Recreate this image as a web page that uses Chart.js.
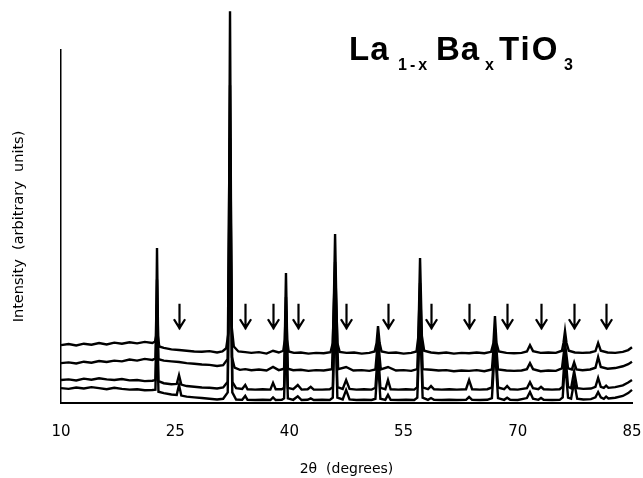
<!DOCTYPE html>
<html>
<head>
<meta charset="utf-8">
<script src="https://cdn.jsdelivr.net/npm/chart.js@4.4.1/dist/chart.umd.min.js"></script>
<style>
  html, body { margin: 0; padding: 0; background: #fff; }
  #wrap { width: 643px; height: 478px; }
</style>
</head>
<body>
<div id="wrap"><canvas id="xrd-chart"></canvas></div>
<script>
// x tick labels (2θ, degrees)
const xTicks = [10, 25, 40, 55, 70, 85];

// arrow markers (extra reflections), in degrees
const arrowPos = [25.5, 34.2, 37.85, 41.1, 47.45, 52.95, 58.6, 63.6, 68.6, 73.05, 77.4, 81.6];

// four stacked patterns, [2θ, intensity] (top to bottom)
const trace1 = [
  [10, 16.4], [11, 16.7], [12, 16.3], [13, 16.8], [14, 16.5], [15, 17.0], [16, 16.6], [17, 17.1],
  [18, 16.8], [19, 17.2], [20, 16.9], [21, 17.3], [22, 17.0], [22.35, 17.4], [22.5, 19], [22.61, 43.9],
  [22.75, 19], [22.9, 16.0], [23.5, 15.6], [24.5, 15.2], [25.5, 15.0], [26.5, 14.8], [27.5, 14.6],
  [28.5, 14.5], [29.5, 14.7], [30.5, 14.3], [31.2, 14.6], [31.7, 15.5], [32.0, 20], [32.2, 111],
  [32.4, 22], [32.7, 16], [33.3, 14.6], [34.2, 14.4], [35, 14.2], [36, 14.4], [37, 14.0], [37.85, 14.8],
  [38.6, 14.3], [39.2, 14.8], [39.4, 18], [39.55, 36.8], [39.7, 18], [39.9, 14.6], [40.6, 14.2],
  [41.5, 14.3], [42.5, 14.0], [43.5, 14.2], [44.5, 14.1], [45.4, 14.4], [45.7, 17], [45.85, 30],
  [46.0, 47.9], [46.15, 30], [46.3, 17], [46.6, 14.5], [47.5, 14.2], [48.5, 14.3], [49.5, 14.0],
  [50.5, 14.2], [51.2, 14.6], [51.45, 17], [51.64, 21.8], [51.85, 17], [52.1, 14.6], [53, 14.2],
  [54, 14.3], [55, 14.0], [56, 14.2], [56.7, 14.6], [56.95, 19], [57.16, 41.1], [57.4, 19], [57.7, 14.8],
  [58.6, 14.3], [59.6, 14.1], [60.6, 14.3], [61.6, 14.0], [62.6, 14.2], [63.6, 14.1], [64.6, 14.3],
  [65.6, 14.1], [66.5, 14.5], [66.8, 17], [67.0, 24.6], [67.2, 17], [67.5, 14.6], [68.5, 14.2],
  [69.5, 14.1], [70.5, 14.2], [71.2, 14.6], [71.6, 16.4], [72.0, 14.7], [73, 14.2], [74, 14.3],
  [75, 14.2], [75.8, 14.8], [76.0, 17], [76.2, 20.4], [76.4, 17], [76.7, 14.8], [77.5, 14.3],
  [78.5, 14.2], [79.5, 14.3], [80.2, 14.7], [80.55, 17.0], [80.9, 14.8], [81.8, 14.3], [82.8, 14.2],
  [83.8, 14.5], [84.5, 15.0], [85, 15.8],
];
const trace2 = [
  [10, 11.3], [11, 11.5], [12, 11.2], [13, 11.7], [14, 11.4], [15, 11.9], [16, 11.6], [17, 12.0],
  [18, 11.8], [19, 12.3], [20, 12.0], [21, 12.5], [22, 12.2], [22.4, 12.6], [22.61, 35], [22.8, 12.4],
  [23.5, 12.0], [24.5, 11.8], [25.5, 11.6], [26.5, 11.3], [27.5, 11.1], [28.5, 10.9], [29.5, 10.8],
  [30.5, 10.5], [31.3, 10.7], [31.9, 12.5], [32.2, 90], [32.45, 13], [32.8, 10], [33.5, 9.4],
  [34.2, 9.6], [35, 9.3], [36, 9.5], [37, 9.2], [37.85, 10.2], [38.6, 9.3], [39.3, 9.7], [39.55, 30],
  [39.8, 9.7], [40.5, 9.3], [41.5, 9.4], [42.5, 9.1], [43.5, 9.3], [44.5, 9.2], [45.6, 9.6], [46.0, 40],
  [46.4, 9.6], [47.45, 10.2], [48.4, 9.2], [49.5, 9.3], [50.5, 9.1], [51.3, 9.5], [51.64, 18],
  [52.0, 9.5], [52.95, 10.2], [54, 9.2], [55, 9.3], [56, 9.1], [56.8, 9.6], [57.16, 34], [57.5, 9.6],
  [58.6, 9.4], [59.6, 9.2], [60.6, 9.3], [61.6, 9.0], [62.6, 9.2], [63.6, 9.1], [64.6, 9.3],
  [65.6, 9.0], [66.6, 9.5], [67.0, 21], [67.4, 9.5], [68.5, 9.2], [69.5, 9.1], [70.5, 9.2], [71.2, 9.6],
  [71.6, 11.3], [72.0, 9.6], [73, 9.0], [74, 9.2], [75, 9.1], [75.8, 9.8], [76.2, 17], [76.6, 9.8],
  [77.1, 9.5], [77.4, 11.5], [77.7, 9.5], [78.5, 9.3], [79.5, 9.5], [80.2, 10], [80.55, 13.0],
  [80.9, 10.2], [81.8, 9.7], [82.8, 9.9], [83.8, 10.4], [84.5, 11.0], [85, 11.7],
];
const trace3 = [
  [10, 6.5], [11, 6.7], [12, 6.4], [13, 6.9], [14, 6.6], [15, 7.0], [16, 6.7], [17, 6.5], [18, 6.8],
  [19, 6.4], [20, 6.5], [21, 6.2], [22, 6.3], [22.4, 6.5], [22.61, 28], [22.8, 6.2], [23.5, 5.6],
  [24.5, 5.3], [25.2, 5.4], [25.5, 7.9], [25.8, 5.2], [26.5, 4.8], [27.5, 4.6], [28.5, 4.4],
  [29.5, 4.3], [30.5, 4.1], [31.3, 4.4], [31.9, 6], [32.2, 75], [32.5, 6], [33, 4.2], [33.8, 4.0],
  [34.2, 5.1], [34.5, 3.9], [35.5, 3.8], [36.5, 3.9], [37.5, 3.8], [37.85, 5.7], [38.2, 3.9],
  [39.0, 3.9], [39.3, 4.3], [39.55, 26], [39.8, 4.3], [40.5, 3.9], [41.1, 5.1], [41.6, 3.8],
  [42.4, 3.9], [42.8, 4.6], [43.2, 3.8], [44.3, 3.8], [45.3, 3.9], [45.7, 4.5], [46.0, 35], [46.3, 4.5],
  [47.0, 4.0], [47.45, 6.5], [47.9, 4.0], [48.8, 3.8], [49.8, 3.9], [50.8, 3.8], [51.3, 4.3],
  [51.64, 15], [51.95, 4.3], [52.6, 3.9], [52.95, 6.5], [53.3, 3.9], [54.3, 3.8], [55.3, 3.9],
  [56.4, 3.8], [56.8, 4.5], [57.16, 30], [57.5, 4.4], [58.2, 3.9], [58.6, 4.8], [59.0, 3.9], [60, 3.8],
  [61, 3.9], [62, 3.8], [63.2, 3.9], [63.6, 6.5], [64.0, 3.9], [65, 3.8], [66, 3.9], [66.6, 4.4],
  [67.0, 19], [67.4, 4.4], [68.2, 3.9], [68.6, 4.8], [69, 3.9], [70, 3.8], [71.2, 4.2], [71.6, 5.9],
  [72.0, 4.2], [72.7, 3.9], [73.05, 4.6], [73.4, 3.9], [74.5, 3.8], [75.5, 3.9], [75.9, 4.6],
  [76.2, 15], [76.6, 4.6], [77.0, 4.2], [77.4, 9], [77.8, 4.2], [78.6, 4.0], [79.6, 4.1], [80.2, 4.6],
  [80.55, 7.1], [80.9, 4.6], [81.3, 4.3], [81.6, 4.9], [81.9, 4.3], [82.8, 4.5], [83.8, 5.0],
  [84.5, 5.8], [85, 6.5],
];
const trace4 = [
  [10, 4.2], [11, 4.0], [12, 4.4], [13, 4.1], [14, 4.5], [15, 4.2], [16, 3.9], [17, 4.3], [18, 4.0],
  [19, 3.8], [20, 3.9], [21, 3.6], [22, 3.7], [22.4, 3.8], [22.61, 22], [22.8, 3.2], [23.5, 2.8],
  [24.5, 2.4], [25.2, 2.3], [25.5, 5.1], [25.8, 2.1], [26.5, 1.8], [27.5, 1.6], [28.5, 1.4],
  [29.5, 1.2], [30.5, 1.0], [31.3, 1.2], [31.9, 3], [32.2, 60], [32.5, 3], [33, 1.0], [33.8, 0.9],
  [34.2, 2.0], [34.5, 0.9], [35.5, 0.85], [36.5, 0.9], [37.5, 0.85], [37.85, 1.6], [38.2, 0.85],
  [39.0, 0.9], [39.3, 1.3], [39.55, 20], [39.8, 1.3], [40.5, 0.9], [41.1, 1.9], [41.6, 0.85],
  [42.4, 0.9], [42.8, 1.3], [43.2, 0.85], [44.3, 0.9], [45.3, 0.85], [45.7, 1.5], [46.0, 28],
  [46.3, 1.5], [47.0, 1.0], [47.45, 3.7], [47.9, 1.0], [48.8, 0.85], [49.8, 0.9], [50.8, 0.85],
  [51.3, 1.2], [51.64, 12], [51.95, 1.2], [52.6, 0.9], [52.95, 2.3], [53.3, 0.9], [54.3, 0.85],
  [55.3, 0.9], [56.4, 0.85], [56.8, 1.5], [57.16, 24], [57.5, 1.5], [58.2, 0.9], [58.6, 1.4],
  [59.0, 0.9], [60, 0.85], [61, 0.9], [62, 0.85], [63.2, 0.9], [63.6, 1.7], [64.0, 0.9], [65, 0.85],
  [66, 0.9], [66.6, 1.4], [67.0, 16], [67.4, 1.4], [68.2, 0.9], [68.6, 1.5], [69, 0.9], [70, 0.85],
  [71.2, 1.4], [71.6, 3.1], [72.0, 1.2], [72.7, 0.9], [73.05, 1.4], [73.4, 0.9], [74.5, 0.85],
  [75.5, 0.9], [75.9, 1.6], [76.2, 12], [76.6, 1.5], [77.0, 1.2], [77.4, 6], [77.8, 1.2], [78.6, 1.0],
  [79.6, 1.1], [80.2, 1.6], [80.55, 3.1], [80.9, 1.6], [81.3, 1.2], [81.6, 1.8], [81.9, 1.3],
  [82.8, 1.5], [83.8, 2.0], [84.5, 2.8], [85, 3.7],
];

const traces = [trace1, trace2, trace3, trace4];

// arrows drawn through the x scale
const arrowPlugin = {
  id: "arrows",
  afterDatasetsDraw(chart) {
    const { ctx, scales } = chart;
    ctx.save();
    ctx.strokeStyle = "#000";
    ctx.lineWidth = 2.2;
    ctx.lineCap = "square";
    arrowPos.forEach((pos) => {
      const x = Math.round(scales.x.getPixelForValue(pos)) + 0.5;
      const top = scales.y.getPixelForValue(27.8);
      const tip = scales.y.getPixelForValue(21.2);
      ctx.beginPath();
      ctx.moveTo(x, top);
      ctx.lineTo(x, tip);
      ctx.moveTo(x - 5, tip - 8);
      ctx.lineTo(x, tip);
      ctx.lineTo(x + 5, tip - 8);
      ctx.stroke();
    });
    ctx.restore();
  },
};

// formula label with subscripts
const formulaPlugin = {
  id: "formula",
  afterDraw(chart) {
    const ctx = chart.ctx;
    ctx.save();
    ctx.fillStyle = "#000";
    ctx.textBaseline = "alphabetic";
    const big = "bold 33px 'Liberation Sans', Arial, sans-serif";
    const small = "bold 16px 'Liberation Sans', Arial, sans-serif";
    const parts = [
      ["La", big, 349, 60, "1px"],
      ["1-x", small, 398, 70, "3px"],
      ["Ba", big, 436, 60, "1px"],
      ["x", small, 485, 70, "0px"],
      ["TiO", big, 499, 60, "2px"],
      ["3", small, 564, 70, "0px"],
    ];
    parts.forEach(([text, font, x, y, spacing]) => {
      ctx.font = font;
      ctx.letterSpacing = spacing;
      ctx.fillText(text, x, y);
    });
    ctx.restore();
  },
};

const ctx = document.getElementById("xrd-chart");
new Chart(ctx, {
  type: "line",
  data: {
    datasets: traces.map((trace) => ({
      data: trace.map(([x, y]) => ({ x: x, y: y })),
      borderColor: "#000",
      borderWidth: 2.4,
      pointRadius: 0,
      tension: 0,
      fill: false,
      clip: false,
    })),
  },
  options: {
    responsive: true,
    maintainAspectRatio: false,
    animation: false,
    layout: {
      padding: { top: 50, right: 11, bottom: 0, left: 0 },
    },
    plugins: {
      legend: { display: false },
      tooltip: { enabled: false },
    },
    scales: {
      x: {
        type: "linear",
        min: xTicks[0],
        max: xTicks[xTicks.length - 1],
        afterBuildTicks: (scale) => {
          scale.ticks = xTicks.map((v) => ({ value: v }));
        },
        afterFit: (scale) => {
          scale.height = 75;
          scale.paddingLeft = 0;
          scale.paddingRight = 0;
        },
        grid: { display: false, drawTicks: false },
        border: { display: true, color: "#000", width: 2 },
        ticks: {
          color: "#000",
          padding: 20,
          maxRotation: 0,
          font: { family: "'DejaVu Sans', sans-serif", size: 15 },
        },
        title: {
          display: true,
          text: "2θ  (degrees)",
          color: "#000",
          padding: { top: 0, bottom: 0 },
          font: { family: "'DejaVu Sans', sans-serif", size: 14 },
        },
      },
      y: {
        min: 0,
        max: 100,
        afterFit: (scale) => {
          scale.width = 61;
        },
        grid: { display: false, drawTicks: false },
        border: { display: true, color: "#000", width: 1.5 },
        ticks: { display: false },
        title: {
          display: true,
          text: "Intensity  (arbitrary  units)",
          color: "#000",
          padding: { top: 11, bottom: 0 },
          font: { family: "'DejaVu Sans', sans-serif", size: 14.5 },
        },
      },
    },
  },
  plugins: [arrowPlugin, formulaPlugin],
});
</script>
</body>
</html>
